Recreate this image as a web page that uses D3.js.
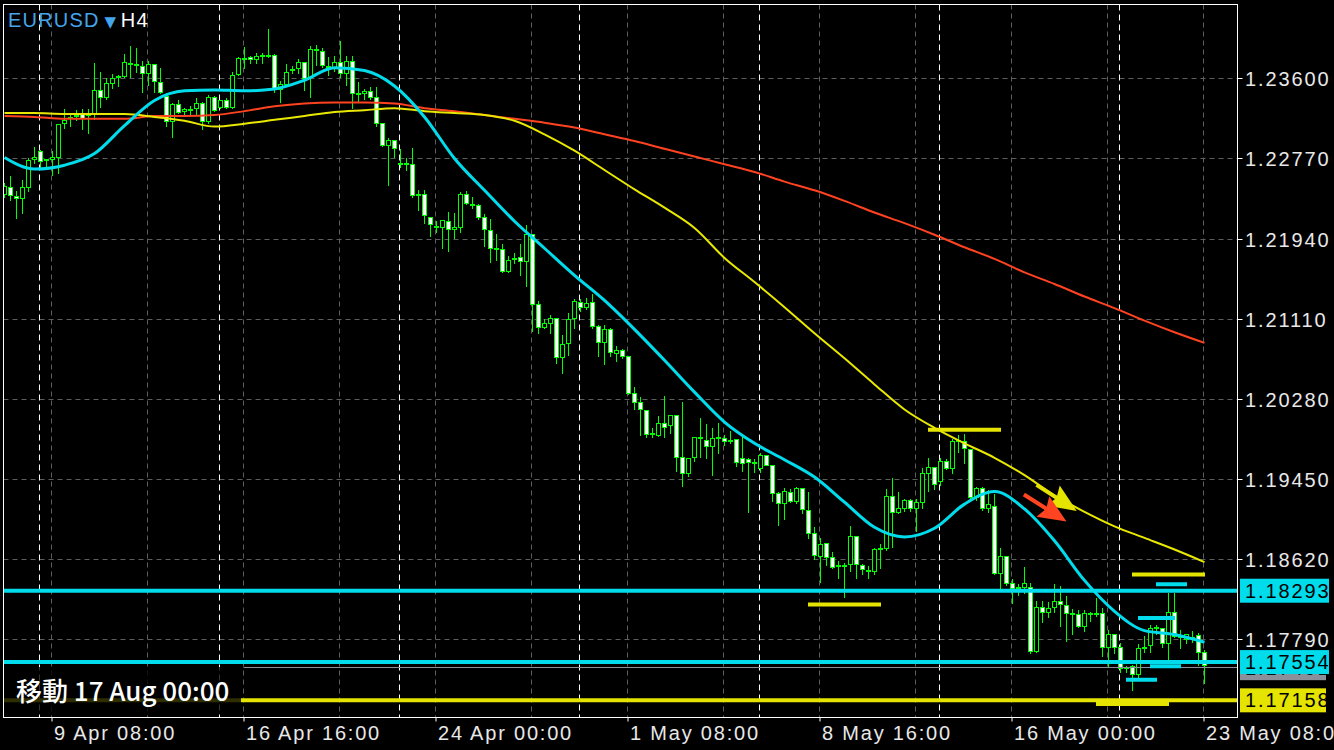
<!DOCTYPE html>
<html><head><meta charset="utf-8">
<script src="https://cdn.jsdelivr.net/npm/d3@7"></script>
<style>html,body{margin:0;padding:0;background:#000;overflow:hidden}</style>
</head><body><svg id="c" width="1334" height="750"></svg>
<script>
// ---- data (EURUSD H4, bars 0..200) ----
const openP=[1.2240,1.2247,1.2238,1.2236,1.2247,1.2276,1.2285,1.2276,1.2276,1.2279,1.2314,1.2319,1.2321,1.2324,1.2323,1.2324,1.2348,1.2341,1.2355,1.2361,
1.2362,1.2376,1.2375,1.2373,1.2366,1.2375,1.2356,1.2342,1.2316,1.2333,1.2326,1.2327,1.2329,1.2334,1.2316,1.2341,1.2330,1.2338,1.2330,1.2364,
1.2381,1.2382,1.2380,1.2383,1.2384,1.2384,1.2349,1.2354,1.2369,1.2371,1.2377,1.2361,1.2390,1.2388,1.2373,1.2372,1.2377,1.2365,1.2378,1.2345,
1.2345,1.2347,1.2341,1.2314,1.2291,1.2296,1.2272,1.2271,1.2271,1.2240,1.2240,1.2216,1.2207,1.2206,1.2212,1.2204,1.2206,1.2240,1.2230,1.2229,
1.2216,1.2203,1.2184,1.2183,1.2160,1.2173,1.2175,1.2171,1.2199,1.2126,1.2102,1.2107,1.2112,1.2071,1.2086,1.2112,1.2128,1.2123,1.2128,1.2103,
1.2087,1.2100,1.2076,1.2079,1.2072,1.2034,1.2025,1.2016,1.1992,1.1991,1.2003,1.2001,1.2011,1.1968,1.1951,1.1968,1.1987,1.1985,1.1979,1.1987,
1.1987,1.1984,1.1986,1.1967,1.1966,1.1962,1.1956,1.1970,1.1960,1.1930,1.1920,1.1932,1.1922,1.1936,1.1913,1.1889,1.1865,1.1879,1.1864,1.1856,
1.1855,1.1857,1.1886,1.1856,1.1851,1.1850,1.1873,1.1874,1.1927,1.1911,1.1915,1.1923,1.1915,1.1921,1.1951,1.1957,1.1943,1.1964,1.1956,1.1984,
1.1984,1.1976,1.1926,1.1936,1.1915,1.1917,1.1848,1.1865,1.1837,1.1832,1.1833,1.1833,1.1767,1.1812,1.1807,1.1812,1.1819,1.1815,1.1806,1.1805,
1.1793,1.1806,1.1805,1.1806,1.1771,1.1784,1.1771,1.1750,1.1751,1.1743,1.1770,1.1773,1.1792,1.1791,1.1775,1.1807,1.1782,1.1779,1.1780,1.1783,
1.1766];
const highP=[1.2253,1.2260,1.2244,1.2256,1.2279,1.2290,1.2287,1.2277,1.2286,1.2314,1.2329,1.2325,1.2328,1.2329,1.2329,1.2377,1.2368,1.2361,1.2365,1.2364,
1.2386,1.2395,1.2392,1.2379,1.2379,1.2376,1.2372,1.2346,1.2335,1.2339,1.2330,1.2332,1.2341,1.2337,1.2344,1.2343,1.2339,1.2341,1.2368,1.2383,
1.2393,1.2384,1.2387,1.2387,1.2412,1.2386,1.2358,1.2376,1.2374,1.2381,1.2378,1.2394,1.2396,1.2392,1.2383,1.2384,1.2400,1.2384,1.2384,1.2357,
1.2350,1.2352,1.2352,1.2314,1.2299,1.2297,1.2288,1.2279,1.2289,1.2245,1.2245,1.2217,1.2213,1.2214,1.2223,1.2222,1.2243,1.2244,1.2238,1.2231,
1.2221,1.2215,1.2200,1.2189,1.2177,1.2180,1.2189,1.2209,1.2200,1.2130,1.2112,1.2116,1.2113,1.2095,1.2118,1.2132,1.2132,1.2133,1.2138,1.2106,
1.2106,1.2102,1.2084,1.2081,1.2073,1.2041,1.2031,1.2016,1.1999,1.2011,1.2032,1.2012,1.2012,1.2026,1.1967,1.1988,1.2009,1.2003,1.1999,1.2004,
1.1992,1.1996,1.1987,1.1993,1.1968,1.1967,1.1973,1.1970,1.1961,1.1933,1.1937,1.1936,1.1938,1.1936,1.1933,1.1896,1.1885,1.1879,1.1870,1.1861,
1.1859,1.1897,1.1887,1.1858,1.1856,1.1875,1.1879,1.1936,1.1947,1.1933,1.1925,1.1925,1.1925,1.1957,1.1968,1.1957,1.1968,1.1967,1.1987,1.1992,
1.1993,1.1977,1.1938,1.1938,1.1935,1.1931,1.1875,1.1866,1.1843,1.1837,1.1855,1.1838,1.1820,1.1820,1.1819,1.1837,1.1835,1.1825,1.1811,1.1810,
1.1810,1.1808,1.1823,1.1812,1.1790,1.1785,1.1776,1.1752,1.1753,1.1775,1.1783,1.1795,1.1795,1.1792,1.1828,1.1828,1.1790,1.1785,1.1789,1.1787,
1.1769];
const lowP=[1.2237,1.2234,1.2215,1.2220,1.2243,1.2272,1.2268,1.2268,1.2260,1.2262,1.2309,1.2311,1.2317,1.2307,1.2303,1.2318,1.2330,1.2339,1.2350,1.2352,
1.2361,1.2361,1.2367,1.2346,1.2353,1.2346,1.2345,1.2311,1.2299,1.2324,1.2323,1.2322,1.2323,1.2307,1.2314,1.2326,1.2329,1.2329,1.2329,1.2363,
1.2371,1.2376,1.2376,1.2376,1.2382,1.2346,1.2335,1.2353,1.2365,1.2365,1.2348,1.2341,1.2374,1.2372,1.2363,1.2368,1.2361,1.2353,1.2329,1.2335,
1.2339,1.2339,1.2311,1.2290,1.2249,1.2279,1.2268,1.2265,1.2237,1.2224,1.2210,1.2197,1.2201,1.2184,1.2181,1.2195,1.2201,1.2230,1.2226,1.2214,
1.2186,1.2170,1.2172,1.2159,1.2159,1.2169,1.2156,1.2145,1.2098,1.2096,1.2101,1.2096,1.2065,1.2055,1.2073,1.2101,1.2119,1.2121,1.2101,1.2072,
1.2064,1.2072,1.2067,1.2070,1.2033,1.2017,1.1991,1.1988,1.1988,1.1990,1.1989,1.1993,1.1953,1.1938,1.1948,1.1964,1.1968,1.1967,1.1949,1.1972,
1.1980,1.1982,1.1958,1.1953,1.1911,1.1952,1.1952,1.1959,1.1922,1.1897,1.1904,1.1921,1.1920,1.1910,1.1884,1.1862,1.1838,1.1856,1.1853,1.1843,
1.1823,1.1850,1.1842,1.1847,1.1843,1.1847,1.1853,1.1872,1.1875,1.1910,1.1912,1.1912,1.1891,1.1915,1.1933,1.1935,1.1939,1.1955,1.1951,1.1973,
1.1962,1.1923,1.1923,1.1913,1.1911,1.1847,1.1832,1.1835,1.1817,1.1825,1.1827,1.1765,1.1766,1.1797,1.1802,1.1807,1.1793,1.1777,1.1785,1.1792,
1.1788,1.1798,1.1803,1.1762,1.1750,1.1765,1.1745,1.1745,1.1727,1.1740,1.1766,1.1766,1.1785,1.1771,1.1759,1.1781,1.1770,1.1775,1.1776,1.1752,
1.1734];
const closeP=[1.2248,1.2239,1.2236,1.2247,1.2275,1.2279,1.2274,1.2275,1.2279,1.2313,1.2317,1.2320,1.2322,1.2319,1.2322,1.2348,1.2341,1.2355,1.2360,1.2362,
1.2377,1.2375,1.2374,1.2366,1.2375,1.2357,1.2346,1.2316,1.2333,1.2325,1.2328,1.2328,1.2334,1.2316,1.2341,1.2327,1.2338,1.2330,1.2363,1.2381,
1.2380,1.2380,1.2383,1.2384,1.2383,1.2349,1.2354,1.2367,1.2370,1.2377,1.2360,1.2390,1.2389,1.2374,1.2372,1.2377,1.2365,1.2378,1.2345,1.2344,
1.2347,1.2341,1.2314,1.2291,1.2296,1.2288,1.2271,1.2272,1.2239,1.2239,1.2218,1.2209,1.2206,1.2213,1.2204,1.2206,1.2240,1.2231,1.2229,1.2216,
1.2204,1.2184,1.2183,1.2160,1.2172,1.2174,1.2171,1.2199,1.2126,1.2102,1.2107,1.2112,1.2071,1.2085,1.2111,1.2129,1.2123,1.2127,1.2103,1.2087,
1.2100,1.2077,1.2079,1.2072,1.2034,1.2025,1.2017,1.1992,1.1993,1.2003,1.1999,1.2011,1.1968,1.1951,1.1967,1.1988,1.1988,1.1979,1.1987,1.1988,
1.1984,1.1985,1.1963,1.1962,1.1963,1.1963,1.1970,1.1960,1.1931,1.1920,1.1933,1.1922,1.1936,1.1914,1.1889,1.1866,1.1878,1.1864,1.1854,1.1855,
1.1856,1.1886,1.1857,1.1852,1.1850,1.1873,1.1874,1.1927,1.1911,1.1915,1.1923,1.1915,1.1921,1.1951,1.1957,1.1940,1.1964,1.1956,1.1984,1.1985,
1.1977,1.1926,1.1936,1.1915,1.1919,1.1848,1.1865,1.1837,1.1832,1.1833,1.1837,1.1767,1.1812,1.1807,1.1811,1.1819,1.1816,1.1806,1.1805,1.1793,
1.1806,1.1805,1.1806,1.1771,1.1784,1.1771,1.1749,1.1749,1.1743,1.1770,1.1771,1.1791,1.1791,1.1775,1.1807,1.1782,1.1781,1.1784,1.1781,1.1766,
1.1752];

const maBars=[0,5,10,15,20,25,30,35,40,45,50,55,60,65,70,75,80,85,90,95,100,105,110,115,120,125,130,135,140,145,150,155,160,165,170,175,180,185,190,195,200];
const maFast=[1.2278,1.2266,1.2270,1.2282,1.2311,1.2337,1.2347,1.2348,1.2347,1.2349,1.2358,1.2371,1.2368,1.2352,1.2320,1.2277,1.2244,1.2212,1.2184,1.2156,1.2130,1.2100,1.2068,1.2035,1.2004,1.1982,1.1965,1.1947,1.1921,1.1895,1.1885,1.1894,1.1919,1.1932,1.1914,1.1881,1.1840,1.1808,1.1788,1.1784,1.1776];
const maMid=[1.2324,1.2324,1.2323,1.2323,1.2323,1.2320,1.2316,1.2310,1.2313,1.2317,1.2321,1.2325,1.2327,1.2329,1.2326,1.2324,1.2322,1.2316,1.2302,1.2285,1.2265,1.2245,1.2226,1.2205,1.2174,1.2149,1.2123,1.2096,1.2070,1.2043,1.2017,1.1998,1.1982,1.1967,1.1949,1.1928,1.1911,1.1896,1.1884,1.1872,1.1859];
const maSlow=[1.2321,1.2320,1.2318,1.2318,1.2318,1.2321,1.2321,1.2322,1.2326,1.2331,1.2334,1.2335,1.2335,1.2334,1.2329,1.2326,1.2322,1.2318,1.2314,1.2309,1.2302,1.2295,1.2287,1.2279,1.2271,1.2263,1.2253,1.2244,1.2233,1.2221,1.2210,1.2198,1.2185,1.2173,1.2159,1.2147,1.2134,1.2122,1.2109,1.2097,1.2086];

// axes
const priceTicks=[1.23600,1.22770,1.21940,1.21110,1.20280,1.19450,1.18620,1.17790];
const gridBars=[8,24,40,56,72,88,104,120,136,152,168,184,200];
const sepBars=[6,36,66,96,126,156,186];
const timeTickBars=[8,40,72,104,136,168,200];
const timeTickLabels=["9 Apr 08:00","16 Apr 16:00","24 Apr 00:00","1 May 08:00","8 May 16:00","16 May 00:00","23 May 08:00"];

// objects
const hLinePrices=[1.18293,1.17554,1.17158];
const hLineColors=["#00dcec","#00dcec","#e4e400"];
const bidPrice=1.17491;
const segStart=[154,134,188,182,192,189,191,187];
const segEnd=[166,146,200,194,197,195,196,192];
const segPrice=[1.19960,1.18150,1.18460,1.17120,1.18360,1.18010,1.17510,1.17370];
const segColor=["#e4e400","#e4e400","#e4e400","#e4e400","#00dcec","#00dcec","#00dcec","#00dcec"];
const arrowFromBar=[172.0,169.9], arrowFromPrice=[1.1939,1.1929];
const arrowToBar=[178.7,177.0], arrowToPrice=[1.1912,1.1901];
const arrowColor=["#e4e400","#ff4422"];

// ---- drawing ----
const svg=d3.select('#c');
const FONT='"Liberation Sans", Arial, sans-serif';
const Lx=3.5, Rx=1237.5, Ty=4.5, By=717.5;
const x=d3.scaleLinear().domain([0,200]).range([4.5,1204.5]);
const xg=d3.scaleLinear().domain([0,200]).range([3.5,1203.5]);
const y=d3.scaleLinear().domain([1.17790,1.23600]).range([639.3,78.3]);
const py=p=>Math.round(y(p))+0.5;

svg.append('rect').attr('width',1334).attr('height',750).attr('fill','#000');
svg.append('defs').append('clipPath').attr('id','clip').append('rect')
  .attr('x',Lx).attr('y',Ty).attr('width',Rx-Lx).attr('height',By-Ty);

const grid=svg.append('g').attr('clip-path','url(#clip)');
grid.selectAll('line.hg').data(priceTicks).join('line')
  .attr('x1',Lx).attr('x2',Rx).attr('y1',py).attr('y2',py)
  .attr('stroke','#5e5e5e').attr('stroke-dasharray','5,4');
grid.selectAll('line.vg').data(gridBars).join('line')
  .attr('x1',d=>xg(d)).attr('x2',d=>xg(d)).attr('y1',Ty).attr('y2',By)
  .attr('stroke','#5e5e5e').attr('stroke-dasharray','5,4');
grid.selectAll('line.sep').data(sepBars).join('line')
  .attr('x1',d=>xg(d)).attr('x2',d=>xg(d)).attr('y1',Ty).attr('y2',By)
  .attr('stroke','#ffffff').attr('stroke-dasharray','6,4');

const plot=svg.append('g').attr('clip-path','url(#clip)');
const idx=d3.range(openP.length);
plot.selectAll('line.wick').data(idx).join('line')
  .attr('x1',i=>x(i)).attr('x2',i=>x(i))
  .attr('y1',i=>py(highP[i])).attr('y2',i=>py(lowP[i]))
  .attr('stroke','#00ff00').attr('stroke-width',1).attr('shape-rendering','crispEdges');
plot.selectAll('rect.body').data(idx).join('rect')
  .attr('x',i=>x(i)-2).attr('width',4)
  .attr('y',i=>py(Math.max(openP[i],closeP[i])))
  .attr('height',i=>py(Math.min(openP[i],closeP[i]))-py(Math.max(openP[i],closeP[i])))
  .attr('fill',i=>closeP[i]<openP[i]?'#ffffff':'#000000')
  .attr('stroke','#00ff00').attr('stroke-width',1).attr('shape-rendering','crispEdges');

const line=d3.line().x((d,k)=>x(maBars[k])).y(d=>y(d)).curve(d3.curveMonotoneX);
plot.append('path').datum(maSlow).attr('d',line).attr('fill','none').attr('stroke','#ff4220').attr('stroke-width',2);
plot.append('path').datum(maMid).attr('d',line).attr('fill','none').attr('stroke','#e8e800').attr('stroke-width',2);
plot.append('path').datum(maFast).attr('d',line).attr('fill','none').attr('stroke','#00dcec').attr('stroke-width',3);

// bid line
plot.append('line').attr('x1',xg(40)).attr('x2',Rx).attr('y1',py(bidPrice)-1).attr('y2',py(bidPrice)-1)
  .attr('stroke','#8a8f99').attr('stroke-width',1);
// horizontal object lines
plot.selectAll('line.hl').data(hLinePrices).join('line')
  .attr('x1',Lx).attr('x2',Rx).attr('y1',d=>y(d)).attr('y2',d=>y(d))
  .attr('stroke',(d,i)=>hLineColors[i]).attr('stroke-width',4);
plot.selectAll('line.seg').data(segPrice).join('line')
  .attr('x1',(d,i)=>x(segStart[i])-0.5).attr('x2',(d,i)=>x(segEnd[i])+0.5)
  .attr('y1',d=>y(d)).attr('y2',d=>y(d))
  .attr('stroke',(d,i)=>segColor[i]).attr('stroke-width',4);
// arrows
arrowColor.forEach((c,i)=>{
  const x1=x(arrowFromBar[i]), y1=y(arrowFromPrice[i]);
  const x2=x(arrowToBar[i]), y2=y(arrowToPrice[i]);
  const dx=x2-x1, dy=y2-y1, len=Math.hypot(dx,dy), ux=dx/len, uy=dy/len;
  const hl=28, hw=12;
  const bx=x2-ux*hl, by=y2-uy*hl;
  plot.append('line').attr('x1',x1).attr('y1',y1).attr('x2',bx+ux*6).attr('y2',by+uy*6)
    .attr('stroke',c).attr('stroke-width',4);
  plot.append('path').attr('d',d3.line()([[x2,y2],[bx-uy*hw,by+ux*hw],[bx+ux*4,by+uy*4],[bx+uy*hw,by-ux*hw]])+'Z')
    .attr('fill',c);
});

// frame
svg.append('rect').attr('x',Lx).attr('y',Ty).attr('width',Rx-Lx).attr('height',By-Ty)
  .attr('fill','none').attr('stroke','#ffffff').attr('stroke-width',1);

// right axis
const ya=svg.append('g').attr('transform',`translate(${Rx},0)`)
  .call(d3.axisRight(y).tickValues(priceTicks).tickFormat(d3.format('.5f')).tickSize(5));
ya.select('.domain').remove();
ya.selectAll('.tick').attr('transform',d=>`translate(0,${py(d)})`);
ya.selectAll('.tick line').attr('stroke','#ffffff');
ya.selectAll('.tick text').attr('x',7.5).attr('dy','0.35em')
  .attr('fill','#e8e8e8').style('font-family',FONT).style('font-size','20px').style('letter-spacing','1.9px');

// bottom axis
const xa=svg.append('g').attr('transform',`translate(0,${By})`)
  .call(d3.axisBottom(xg).tickValues(timeTickBars).tickFormat((d,i)=>timeTickLabels[i]).tickSize(4));
xa.select('.domain').remove();
xa.selectAll('.tick line').attr('stroke','#ffffff');
xa.selectAll('.tick text').attr('text-anchor','start').attr('x',2).attr('y',22.5).attr('dy',0)
  .attr('fill','#e8e8e8').style('font-family',FONT).style('font-size','20px').style('letter-spacing','1.8px');

// price label boxes
const boxes=[
  {p:bidPrice,bg:'#8a8f99',t:'1.17491',w:86},
  {p:hLinePrices[0],bg:'#00dcec',t:'1.18293',w:89},
  {p:hLinePrices[1],bg:'#00dcec',t:'1.17554',w:89},
  {p:hLinePrices[2],bg:'#e4e400',t:'1.17158',w:86}
];
const bg=svg.append('g');
boxes.forEach(b=>{
  const cy=y(b.p);
  bg.append('rect').attr('x',1240).attr('y',cy-12).attr('width',b.w).attr('height',24).attr('fill',b.bg);
  bg.append('text').attr('x',1245).attr('y',cy).attr('dy','0.35em').text(b.t)
    .attr('fill','#000').style('font-family',FONT).style('font-size','20px').style('letter-spacing','1.9px');
});

// title
const tt=svg.append('text').attr('x',8).attr('y',27).style('font-family',FONT).style('font-size','20px');
tt.append('tspan').text('EURUSD').attr('fill','#45a5ec').style('letter-spacing','1.2px');
tt.append('tspan').text(' ▼ ').attr('fill','#45a5ec').style('font-size','15px').style('font-family','"DejaVu Sans"');
tt.append('tspan').text('H4').attr('fill','#ffffff').style('letter-spacing','1.2px');

// bottom-left info box
svg.append('rect').attr('x',Lx+0.5).attr('y',667).attr('width',237).attr('height',46).attr('fill','#000').attr('fill-opacity',0.8);
svg.append('text').attr('x',16).attr('y',701).text('移動 17 Aug 00:00')
  .attr('fill','#ffffff').style('font-family','"Noto Sans CJK JP", sans-serif').style('font-size','26px').style('font-weight',500);
</script></body></html>
